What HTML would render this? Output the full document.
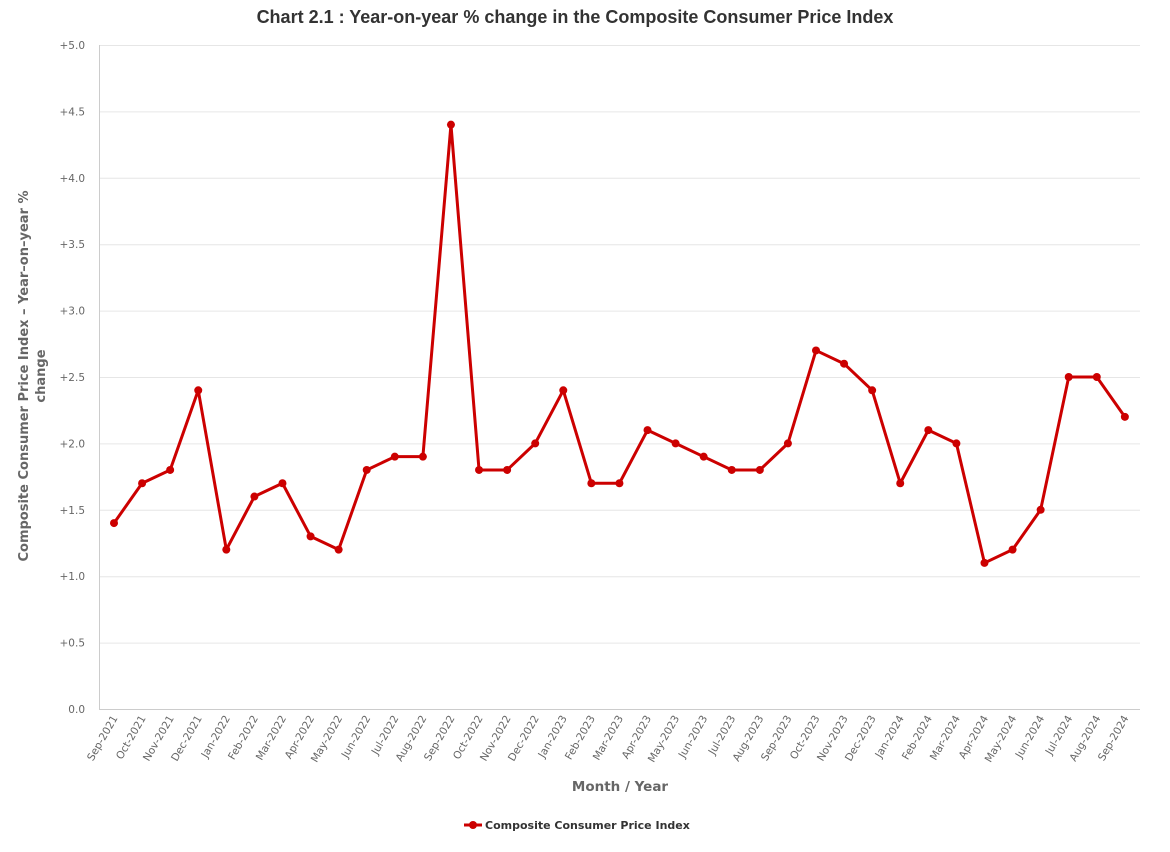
<!DOCTYPE html>
<html><head><meta charset="utf-8"><style>
body{margin:0;background:#fff;}
svg{display:block;font-family:"DejaVu Sans","Liberation Sans",sans-serif;}
</style></head><body>
<svg id="c" width="1170" height="852" xmlns="http://www.w3.org/2000/svg">
<text x="575" y="23" text-anchor="middle" font-family="Liberation Sans, sans-serif" font-weight="bold" font-size="18" fill="#333">Chart 2.1 : Year-on-year % change in the Composite Consumer Price Index</text>
<g id="grid"></g>
<line x1="99.5" y1="45" x2="99.5" y2="709" stroke="#ccc"/>
<line x1="99" y1="709.5" x2="1140" y2="709.5" stroke="#ccc"/>
<g id="xl"></g>
<polyline id="ln" fill="none" stroke="#cc0000" stroke-width="3" stroke-linejoin="round"/>
<g id="pts"></g>
<text x="620" y="791" text-anchor="middle" font-weight="bold" font-size="13.5" fill="#666">Month / Year</text>
<text transform="translate(28,376) rotate(-90)" text-anchor="middle" font-weight="bold" font-size="13" fill="#666"><tspan x="0" y="0">Composite Consumer Price Index – Year–on–year %</tspan><tspan x="0" y="17">change</tspan></text>
<line x1="464" y1="825" x2="482" y2="825" stroke="#cc0000" stroke-width="3"/>
<circle cx="473" cy="825" r="4" fill="#cc0000"/>
<text x="485" y="829" font-weight="bold" font-size="11" fill="#333">Composite Consumer Price Index</text>
</svg>
<script>
const d=[1.4,1.7,1.8,2.4,1.2,1.6,1.7,1.3,1.2,1.8,1.9,1.9,4.4,1.8,1.8,2.0,2.4,1.7,1.7,2.1,2.0,1.9,1.8,1.8,2.0,2.7,2.6,2.4,1.7,2.1,2.0,1.1,1.2,1.5,2.5,2.5,2.2];
const m=["Jan","Feb","Mar","Apr","May","Jun","Jul","Aug","Sep","Oct","Nov","Dec"];
const NS="http://www.w3.org/2000/svg";
function el(t,a,p,txt){const e=document.createElementNS(NS,t);for(const k in a)e.setAttribute(k,a[k]);if(txt)e.textContent=txt;document.getElementById(p).appendChild(e);return e;}
const Y=v=>709-v*132.8, X=i=>114+i*28.08;
for(let k=0;k<=10;k++){const v=k*0.5,y=Y(v);
 if(k>0)el("line",{x1:100,x2:1140,y1:y+0.5,y2:y+0.5,stroke:"#e6e6e6"},"grid");
 el("text",{x:85,y:y+4,"text-anchor":"end","font-size":10.5,fill:"#666"},"grid",(k?"+":"")+v.toFixed(1));}
let pts=[];
d.forEach((v,i)=>{const x=X(i),y=Y(v);pts.push(x+","+y);
 el("circle",{cx:x,cy:y,r:4,fill:"#cc0000"},"pts");
 const mi=(8+i)%12,yr=2021+Math.floor((8+i)/12);
 el("text",{transform:`translate(${x+4},${718}) rotate(-60)`,"text-anchor":"end","font-size":10.5,fill:"#666"},"xl",m[mi]+"-"+yr);});
document.getElementById("ln").setAttribute("points",pts.join(" "));
</script>
</body></html>
